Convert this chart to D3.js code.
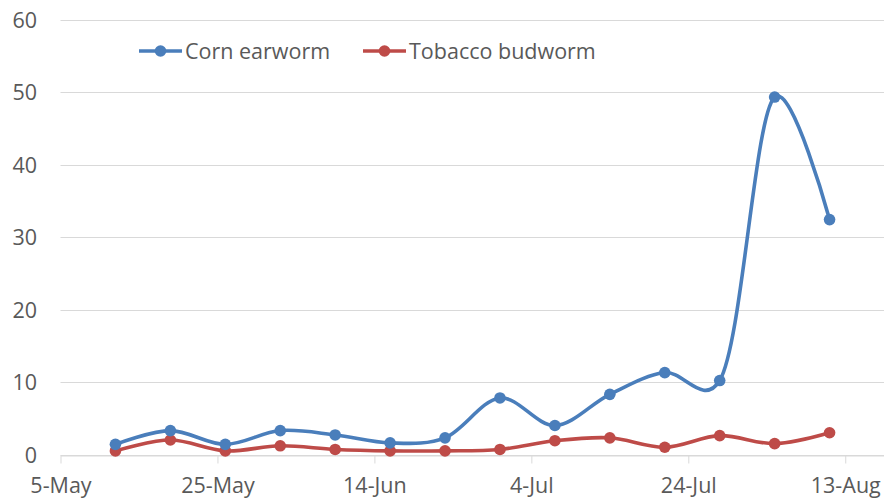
<!DOCTYPE html>
<html>
<head>
<meta charset="utf-8">
<script src="https://cdn.jsdelivr.net/npm/d3@7"></script>
<style>
  html, body { margin: 0; padding: 0; background: #fff; }
  svg { display: block; font-family: "Open Sans", sans-serif; }
</style>
</head>
<body>
<svg id="chart" width="884" height="498"></svg>
<script>
// Weekly trap counts
const sampleDates = ["2015-05-12","2015-05-19","2015-05-26","2015-06-02","2015-06-09","2015-06-16","2015-06-23",
                     "2015-06-30","2015-07-07","2015-07-14","2015-07-21","2015-07-28","2015-08-04","2015-08-11"];
const cornEarworm = [1.4, 3.3, 1.4, 3.3, 2.7, 1.6, 2.3, 7.8, 4.0, 8.3, 11.3, 10.2, 49.3, 32.4];
const tobaccoBudworm = [0.5, 2.0, 0.5, 1.2, 0.7, 0.5, 0.5, 0.7, 1.9, 2.3, 1.0, 2.6, 1.5, 3.0];
const seriesNames = ["Corn earworm", "Tobacco budworm"];
const seriesColors = ["#4a7ebb", "#be4b48"];
const xTickDates = ["2015-05-05","2015-05-25","2015-06-14","2015-07-04","2015-07-24","2015-08-13"];
const yTicks = [0, 10, 20, 30, 40, 50, 60];

const parse = d3.timeParse("%Y-%m-%d");
const fmt = d3.timeFormat("%-d-%b");
const svg = d3.select("#chart");

const x = d3.scaleTime()
  .domain([parse("2015-05-05"), parse("2015-08-18")])
  .range([60.5, 884.5]);
const y = d3.scaleLinear().domain([0, 60]).range([454.5, 19.5]);

// Horizontal gridlines
svg.append("g")
  .selectAll("line")
  .data(yTicks)
  .join("line")
  .attr("x1", x.range()[0]).attr("x2", x.range()[1])
  .attr("y1", d => Math.round(y(d)) + 0.5).attr("y2", d => Math.round(y(d)) + 0.5)
  .attr("stroke", "#d9d9d9").attr("stroke-width", 1);

// Y axis labels
const yAxis = d3.axisLeft(y).tickValues(yTicks).tickSize(0).tickPadding(0);
svg.append("g")
  .attr("transform", "translate(37,0)")
  .call(yAxis)
  .call(g => g.select(".domain").remove())
  .call(g => g.selectAll("text")
    .attr("fill", "#595959").attr("font-size", 21.5)
    .attr("font-family", "Open Sans, sans-serif")
    .attr("dy", "0.35em"));

// X axis with short ticks below the baseline
const xAxis = d3.axisBottom(x)
  .tickValues(xTickDates.map(parse))
  .tickFormat(fmt)
  .tickSizeInner(8).tickSizeOuter(0).tickPadding(14);
svg.append("g")
  .attr("transform", `translate(0,${Math.round(y(0)) + 0.5})`)
  .call(xAxis)
  .call(g => g.select(".domain").attr("stroke", "#d9d9d9"))
  .call(g => g.selectAll(".tick line").attr("stroke", "#d9d9d9"))
  .call(g => g.selectAll("text")
    .attr("fill", "#595959").attr("font-size", 21.5)
    .attr("font-family", "Open Sans, sans-serif"));

// Smoothed series lines with markers
const allSeries = [cornEarworm, tobaccoBudworm];
const line = d3.line()
  .x((d, i) => x(parse(sampleDates[i])))
  .y(d => y(d))
  .curve(d3.curveCatmullRom.alpha(0.2));

// Draw the budworm first so the earworm line sits on top where they touch
[1, 0].forEach(si => {
  const vals = allSeries[si];
  const g = svg.append("g");
  g.append("path")
    .datum(vals)
    .attr("d", line)
    .attr("fill", "none")
    .attr("stroke", seriesColors[si])
    .attr("stroke-width", 3.6)
    .attr("stroke-linecap", "round");
  g.selectAll("circle")
    .data(vals)
    .join("circle")
    .attr("cx", (d, i) => x(parse(sampleDates[i])))
    .attr("cy", d => y(d))
    .attr("r", 5.8)
    .attr("fill", seriesColors[si]);
});

// Legend
const legend = svg.append("g");
const legendItems = [{x0: 139, tx: 185}, {x0: 363, tx: 409}];
legendItems.forEach((it, i) => {
  const ly = 51;
  legend.append("line")
    .attr("x1", it.x0).attr("x2", it.x0 + 43)
    .attr("y1", ly).attr("y2", ly)
    .attr("stroke", seriesColors[i]).attr("stroke-width", 3.6);
  legend.append("circle")
    .attr("cx", it.x0 + 21.5).attr("cy", ly).attr("r", 5.8)
    .attr("fill", seriesColors[i]);
  legend.append("text")
    .attr("x", it.tx).attr("y", ly)
    .attr("dy", "0.35em")
    .attr("fill", "#595959").attr("font-size", 21.5)
    .text(seriesNames[i]);
});
</script>
</body>
</html>
